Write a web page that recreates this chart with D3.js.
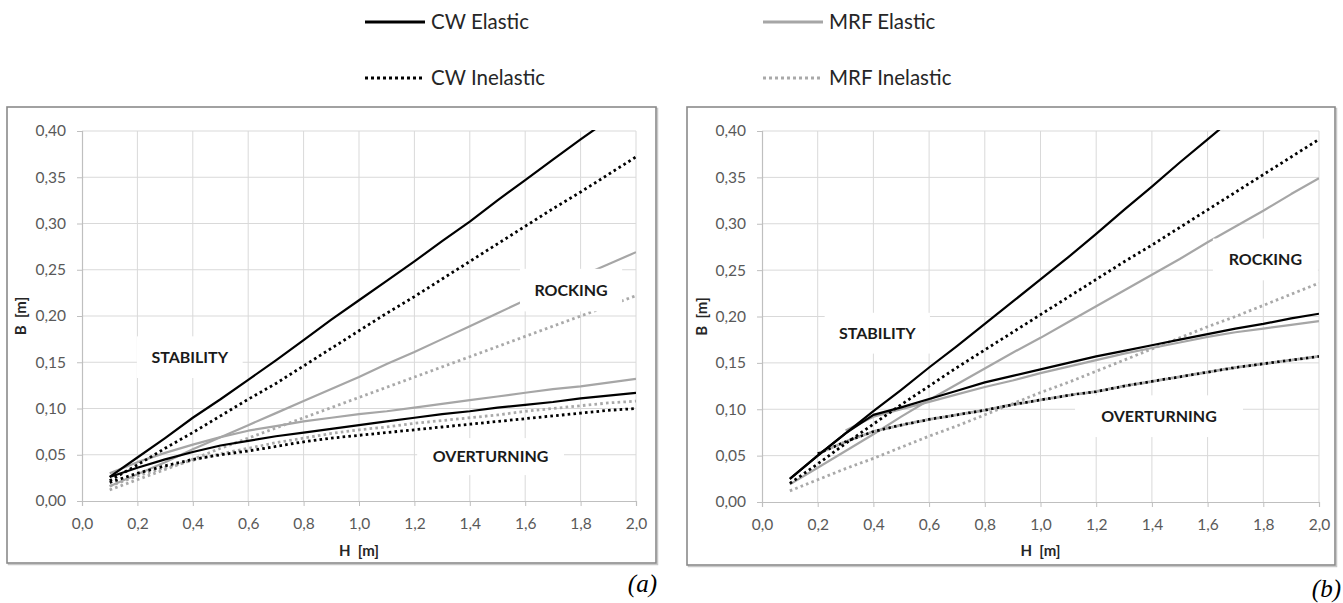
<!DOCTYPE html>
<html>
<head>
<meta charset="utf-8">
<script src="https://cdn.jsdelivr.net/npm/d3@7"></script>
<style>
  html, body { margin: 0; padding: 0; background: #fff; }
  svg { display: block; }
</style>
</head>
<body>
<svg id="chart" width="1343" height="603"></svg>
<script>
// Slenderness H [m] abscissa (step 0.1)
const H_FULL = [0.1,0.2,0.3,0.4,0.5,0.6,0.7,0.8,0.9,1.0,1.1,1.2,1.3,1.4,1.5,1.6,1.7,1.8,1.9,2.0];
const H_FROM_02 = H_FULL.slice(1);
const H_FROM_03 = H_FULL.slice(2);

const X_TICKS = [0,0.2,0.4,0.6,0.8,1.0,1.2,1.4,1.6,1.8,2.0];
const Y_TICKS = [0,0.05,0.10,0.15,0.20,0.25,0.30,0.35,0.40];

// Panel (a) – upper (stability/rocking) and lower (rocking/overturning) limits, B [m]
const A_CW_EL_UP    = [0.026,0.047,0.068,0.090,0.110,0.131,0.152,0.174,0.196,0.217,0.238,0.259,0.281,0.302,0.325,0.347,0.369,0.391,0.412];
const A_CW_EL_LOW   = [0.026,0.036,0.045,0.053,0.060,0.065,0.070,0.074,0.078,0.082,0.086,0.090,0.094,0.097,0.101,0.104,0.107,0.111,0.114,0.117];
const A_CW_IN_UP    = [0.022,0.039,0.057,0.074,0.092,0.110,0.127,0.146,0.165,0.184,0.203,0.221,0.240,0.259,0.278,0.297,0.316,0.334,0.353,0.372];
const A_CW_IN_LOW   = [0.020,0.030,0.038,0.045,0.050,0.054,0.059,0.064,0.068,0.071,0.074,0.077,0.080,0.083,0.086,0.089,0.092,0.095,0.098,0.100];
const A_MRF_EL_UP   = [0.016,0.029,0.042,0.056,0.069,0.082,0.095,0.108,0.121,0.134,0.148,0.161,0.175,0.189,0.203,0.217,0.230,0.243,0.256,0.269];
const A_MRF_EL_LOW  = [0.030,0.042,0.052,0.061,0.069,0.076,0.081,0.086,0.090,0.094,0.097,0.101,0.105,0.109,0.113,0.117,0.121,0.124,0.128,0.132];
const A_MRF_IN_UP   = [0.012,0.023,0.034,0.045,0.057,0.068,0.079,0.090,0.101,0.112,0.123,0.134,0.145,0.156,0.167,0.178,0.189,0.200,0.211,0.222];
const A_MRF_IN_LOW  = [0.016,0.027,0.036,0.044,0.051,0.057,0.063,0.068,0.073,0.077,0.080,0.084,0.087,0.090,0.093,0.097,0.100,0.103,0.106,0.108];

// Panel (b)
const B_CW_EL_UP    = [0.025,0.050,0.074,0.098,0.121,0.145,0.168,0.192,0.216,0.240,0.264,0.289,0.315,0.340,0.366,0.391,0.416];
const B_CW_EL_LOW   = [0.025,0.050,0.074,0.094,0.102,0.111,0.120,0.129,0.136,0.143,0.150,0.157,0.163,0.169,0.175,0.181,0.187,0.192,0.198,0.203];
const B_CW_IN_UP    = [0.020,0.041,0.063,0.084,0.105,0.125,0.145,0.164,0.183,0.202,0.221,0.240,0.259,0.277,0.296,0.315,0.334,0.353,0.372,0.391];
const B_CW_IN_LOW   = [0.052,0.065,0.076,0.083,0.089,0.094,0.099,0.105,0.110,0.115,0.119,0.125,0.130,0.135,0.140,0.145,0.149,0.153,0.157];
const B_MRF_EL_UP   = [0.019,0.037,0.055,0.073,0.092,0.110,0.127,0.144,0.161,0.177,0.194,0.211,0.228,0.245,0.262,0.280,0.297,0.314,0.332,0.349];
const B_MRF_EL_LOW  = [0.077,0.092,0.100,0.108,0.116,0.124,0.131,0.139,0.146,0.153,0.160,0.166,0.172,0.178,0.183,0.187,0.191,0.195];
const B_MRF_IN_UP   = [0.012,0.024,0.036,0.047,0.059,0.071,0.082,0.094,0.106,0.118,0.129,0.141,0.153,0.165,0.177,0.189,0.200,0.212,0.224,0.236];
const B_MRF_IN_LOW  = [0.052,0.065,0.076,0.083,0.089,0.094,0.099,0.105,0.110,0.115,0.119,0.125,0.130,0.135,0.140,0.145,0.149,0.153,0.157];

const LEGEND_NAMES = ["CW Elastic", "MRF Elastic", "CW Inelastic", "MRF Inelastic"];
const REGION_NAMES = ["STABILITY", "ROCKING", "OVERTURNING"];

// Line styles
const STYLE = {
  cwEl:  { stroke: "#000000", width: 2.2, dash: null },
  mrfEl: { stroke: "#a6a6a6", width: 2.2, dash: null },
  cwIn:  { stroke: "#000000", width: 2.8, dash: "2.6 3.2" },
  mrfIn: { stroke: "#a9a9a9", width: 2.8, dash: "2.6 3.2" }
};

const svg = d3.select("#chart");
const FONT = "Lato, 'Open Sans', sans-serif";

// ---- legend ----
const legendItems = [
  { name: LEGEND_NAMES[0], st: STYLE.cwEl,  x: 365, y: 22 },
  { name: LEGEND_NAMES[1], st: STYLE.mrfEl, x: 763, y: 22 },
  { name: LEGEND_NAMES[2], st: STYLE.cwIn,  x: 365, y: 78 },
  { name: LEGEND_NAMES[3], st: STYLE.mrfIn, x: 763, y: 78 }
];
const lg = svg.append("g").attr("class", "legend");
legendItems.forEach(it => {
  lg.append("line")
    .attr("x1", it.x).attr("x2", it.x + 60)
    .attr("y1", it.y).attr("y2", it.y)
    .attr("stroke", it.st.stroke)
    .attr("stroke-width", 3.2)
    .attr("stroke-dasharray", it.st.dash ? "3 3" : null);
  lg.append("text")
    .attr("x", it.x + 66).attr("y", it.y)
    .attr("dy", "0.36em")
    .attr("font-family", FONT).attr("font-size", 20.5)
    .attr("fill", "#262626")
    .text(it.name);
});

function drawPanel(cfg) {
  const g = svg.append("g");
  // frame
  g.append("rect")
    .attr("x", cfg.frame[0] + 1.5).attr("y", cfg.frame[1] + 1.5)
    .attr("width", cfg.frame[2] - cfg.frame[0]).attr("height", cfg.frame[3] - cfg.frame[1])
    .attr("fill", "none").attr("stroke", "#c8c8c8").attr("stroke-width", 1.5);
  g.append("rect")
    .attr("x", cfg.frame[0]).attr("y", cfg.frame[1])
    .attr("width", cfg.frame[2] - cfg.frame[0]).attr("height", cfg.frame[3] - cfg.frame[1])
    .attr("fill", "#fff").attr("stroke", "#8a8a8a").attr("stroke-width", 1.6);

  const x = d3.scaleLinear().domain([0, 2]).range(cfg.xr);
  const y = d3.scaleLinear().domain([0, 0.4]).range(cfg.yr);

  // grid
  const grid = g.append("g");
  grid.selectAll("line.v").data(X_TICKS.slice(1)).join("line")
    .attr("x1", d => x(d)).attr("x2", d => x(d))
    .attr("y1", y(0.4)).attr("y2", y(0))
    .attr("stroke", "#d9d9d9").attr("stroke-width", 1);
  grid.selectAll("line.h").data(Y_TICKS.slice(1)).join("line")
    .attr("x1", x(0)).attr("x2", x(2))
    .attr("y1", d => y(d)).attr("y2", d => y(d))
    .attr("stroke", "#d9d9d9").attr("stroke-width", 1);

  // axes
  const fmtX = d => d3.format(".1f")(d).replace(".", ",");
  const fmtY = d => d3.format(".2f")(d).replace(".", ",");
  const xAxis = g.append("g").attr("transform", `translate(0,${y(0)})`)
    .call(d3.axisBottom(x).tickValues(X_TICKS).tickFormat(fmtX).tickSize(5).tickPadding(12));
  const yAxis = g.append("g").attr("transform", `translate(${x(0)},0)`)
    .call(d3.axisLeft(y).tickValues(Y_TICKS).tickFormat(fmtY).tickSize(5).tickPadding(11));
  [xAxis, yAxis].forEach(a => {
    a.select(".domain").attr("stroke", "#bfbfbf").attr("stroke-width", 1.2);
    a.selectAll(".tick line").attr("stroke", "#bfbfbf");
    a.selectAll(".tick text").attr("font-family", FONT).attr("font-size", 15.5).attr("fill", "#595959");
  });

  // axis titles
  g.append("text")
    .attr("x", (cfg.xr[0] + cfg.xr[1]) / 2).attr("y", cfg.xTitleY)
    .attr("text-anchor", "middle").attr("font-family", FONT)
    .attr("font-weight", "bold").attr("font-size", 15).attr("fill", "#262626")
    .attr("xml:space", "preserve")
    .text("H  [m]");
  g.append("text")
    .attr("transform", `translate(${cfg.yTitleX},${(cfg.yr[0] + cfg.yr[1]) / 2}) rotate(-90)`)
    .attr("text-anchor", "middle").attr("font-family", FONT)
    .attr("font-weight", "bold").attr("font-size", 15).attr("fill", "#262626")
    .attr("xml:space", "preserve")
    .text("B  [m]");

  // clip to plot area
  const clipId = "clip-" + cfg.id;
  g.append("clipPath").attr("id", clipId).append("rect")
    .attr("x", x(0)).attr("y", y(0.4) - 1)
    .attr("width", x(2) - x(0)).attr("height", y(0) - y(0.4) + 1);

  const line = d3.line().x(d => x(d[0])).y(d => y(d[1]));
  const lines = g.append("g").attr("clip-path", `url(#${clipId})`);
  cfg.series.forEach(s => {
    lines.append("path")
      .datum(d3.zip(s.h, s.v))
      .attr("d", line)
      .attr("fill", "none")
      .attr("stroke", s.st.stroke)
      .attr("stroke-width", s.st.width)
      .attr("stroke-dasharray", s.st.dash)
      .attr("stroke-dashoffset", s.offset || 0)
      .attr("stroke-linejoin", "round");
  });

  // region labels on white boxes
  cfg.regions.forEach(r => {
    g.append("rect")
      .attr("x", x(r.box[0])).attr("y", y(r.box[3]))
      .attr("width", x(r.box[1]) - x(r.box[0]))
      .attr("height", y(r.box[2]) - y(r.box[3]))
      .attr("fill", "#fff");
    g.append("text")
      .attr("x", x((r.box[0] + r.box[1]) / 2)).attr("y", y((r.box[2] + r.box[3]) / 2))
      .attr("dy", "0.36em").attr("text-anchor", "middle")
      .attr("font-family", FONT).attr("font-weight", "bold")
      .attr("font-size", 16).attr("fill", "#1a1a1a")
      .text(r.name);
  });

  // panel tag
  g.append("text")
    .attr("x", cfg.tag[0]).attr("y", cfg.tag[1])
    .attr("text-anchor", "end")
    .attr("font-family", "'Liberation Serif', 'DejaVu Serif', serif")
    .attr("font-style", "italic").attr("font-size", 25).attr("fill", "#000")
    .text(cfg.tagText);
}

drawPanel({
  id: "a",
  frame: [7, 107, 656, 563],
  xr: [82, 636], yr: [501, 131],
  xTitleY: 556, yTitleX: 26,
  tag: [657, 592], tagText: "(a)",
  series: [
    { h: H_FULL, v: A_MRF_EL_UP,  st: STYLE.mrfEl },
    { h: H_FULL, v: A_MRF_EL_LOW, st: STYLE.mrfEl },
    { h: H_FULL, v: A_MRF_IN_UP,  st: STYLE.mrfIn },
    { h: H_FULL, v: A_MRF_IN_LOW, st: STYLE.mrfIn },
    { h: H_FULL, v: A_CW_EL_UP,   st: STYLE.cwEl },
    { h: H_FULL, v: A_CW_EL_LOW,  st: STYLE.cwEl },
    { h: H_FULL, v: A_CW_IN_UP,   st: STYLE.cwIn },
    { h: H_FULL, v: A_CW_IN_LOW,  st: STYLE.cwIn }
  ],
  regions: [
    { name: REGION_NAMES[0], box: [0.198, 0.58, 0.133, 0.178] },
    { name: REGION_NAMES[1], box: [1.581, 1.95, 0.205, 0.251] },
    { name: REGION_NAMES[2], box: [1.21, 1.74, 0.028, 0.068] }
  ]
});

drawPanel({
  id: "b",
  frame: [687, 107, 1335, 565],
  xr: [762, 1319], yr: [502, 131],
  xTitleY: 556, yTitleX: 707,
  tag: [1341, 597], tagText: "(b)",
  series: [
    { h: H_FULL,    v: B_MRF_EL_UP,  st: STYLE.mrfEl },
    { h: H_FROM_03, v: B_MRF_EL_LOW, st: STYLE.mrfEl },
    { h: H_FULL,    v: B_MRF_IN_UP,  st: STYLE.mrfIn },
    { h: H_FROM_02, v: B_MRF_IN_LOW, st: STYLE.mrfIn, offset: 2.9 },
    { h: H_FULL,    v: B_CW_EL_UP,   st: STYLE.cwEl },
    { h: H_FULL,    v: B_CW_EL_LOW,  st: STYLE.cwEl },
    { h: H_FULL,    v: B_CW_IN_UP,   st: STYLE.cwIn },
    { h: H_FROM_02, v: B_CW_IN_LOW,  st: STYLE.cwIn }
  ],
  regions: [
    { name: REGION_NAMES[0], box: [0.225, 0.603, 0.160, 0.204] },
    { name: REGION_NAMES[1], box: [1.619, 1.996, 0.239, 0.284] },
    { name: REGION_NAMES[2], box: [1.124, 1.727, 0.070, 0.115] }
  ]
});
</script>
</body>
</html>
